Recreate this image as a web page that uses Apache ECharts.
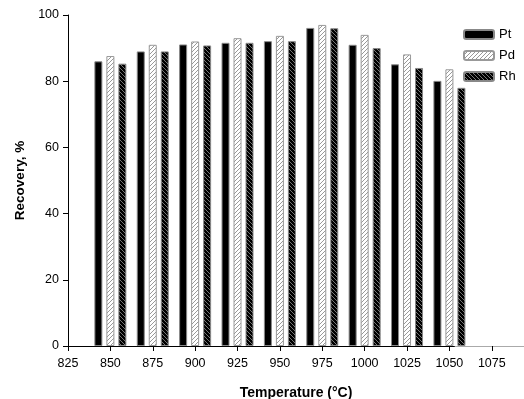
<!DOCTYPE html>
<html>
<head>
<meta charset="utf-8">
<script src="https://cdn.jsdelivr.net/npm/echarts@6/dist/echarts.min.js"></script>
<style>html,body{margin:0;padding:0;background:#fff}#c{width:524px;height:399px}</style>
</head>
<body>
<div id="c"></div>
<script>
var temperatures = [850, 875, 900, 925, 950, 975, 1000, 1025, 1050];
var pt = [86.0, 89.0, 91.1, 91.6, 92.1, 96.1, 91.0, 85.1, 80.1];
var pd = [87.6, 91.0, 92.0, 93.0, 93.7, 97.0, 94.0, 88.1, 83.6];
var rh = [85.3, 89.0, 90.8, 91.6, 92.1, 96.0, 90.0, 84.0, 78.0];
var xTicks = [825, 850, 875, 900, 925, 950, 975, 1000, 1025, 1050, 1075];
var yTicks = [0, 20, 40, 60, 80, 100];

function hatch(bg, fg, forward) {
  var s = 4, cv = document.createElement('canvas');
  cv.width = s; cv.height = s;
  var g = cv.getContext('2d');
  g.fillStyle = bg; g.fillRect(0, 0, s, s);
  g.strokeStyle = fg; g.lineWidth = 1;
  g.beginPath();
  if (forward) {
    g.moveTo(0, s); g.lineTo(s, 0);
    g.moveTo(-1, 1); g.lineTo(1, -1);
    g.moveTo(s - 1, s + 1); g.lineTo(s + 1, s - 1);
  } else {
    g.moveTo(0, 0); g.lineTo(s, s);
    g.moveTo(-1, s - 1); g.lineTo(1, s + 1);
    g.moveTo(s - 1, -1); g.lineTo(s + 1, 1);
  }
  g.stroke();
  return { image: cv, repeat: 'repeat' };
}

function pairs(vals) { return temperatures.map(function (t, i) { return [t, vals[i]]; }); }

var font = 'Liberation Sans, Arial, sans-serif';
var chart = echarts.init(document.getElementById('c'), null, { renderer: 'canvas' });
chart.setOption({
  animation: false,
  backgroundColor: '#fff',
  grid: { left: 68, top: 15, right: 0, bottom: 53, containLabel: false, outerBoundsMode: 'none' },
  legend: {
    orient: 'vertical', left: 458, top: 23,
    itemWidth: 30, itemHeight: 9, itemGap: 8,
    textStyle: { fontFamily: font, fontSize: 13, color: '#000' },
    data: ['Pt', 'Pd', 'Rh']
  },
  xAxis: [{
    type: 'value', min: 825, max: 1094, interval: 25,
    axisLine: { onZero: false, lineStyle: { color: '#000', width: 1 } },
    axisTick: { show: true, length: 5, lineStyle: { color: '#000' } },
    axisLabel: {
      margin: 11, fontFamily: font, fontSize: 12.5, color: '#000', showMaxLabel: false,
      formatter: function (v) { return xTicks.indexOf(v) >= 0 ? String(v) : ''; }
    },
    splitLine: { show: false },
    name: 'Temperature (°C)', nameLocation: 'middle', nameGap: 40,
    nameTextStyle: { fontFamily: font, fontSize: 14, fontWeight: 'bold', color: '#000' }
  }, {
    type: 'value', position: 'top', min: 825, max: 1094, interval: 25,
    axisLine: { show: true, lineStyle: { width: 1, color: {
      type: 'linear', x: 0, y: 0, x2: 1, y2: 0,
      colorStops: [{ offset: 0, color: '#000' }, { offset: 0.843, color: '#000' },
                   { offset: 0.846, color: '#aaa' }, { offset: 1, color: '#aaa' }] } } },
    axisTick: { show: false }, axisLabel: { show: false }, splitLine: { show: false }
  }],
  yAxis: {
    type: 'value', min: 0, max: 100, interval: 20,
    axisLine: { show: true, lineStyle: { color: '#000', width: 1 } },
    axisTick: { show: true, length: 5, lineStyle: { color: '#000' } },
    axisLabel: {
      margin: 9, fontFamily: font, fontSize: 12.5, color: '#000',
      formatter: function (v) { return yTicks.indexOf(v) >= 0 ? String(v) : ''; }
    },
    splitLine: { show: false },
    name: 'Recovery, %', nameLocation: 'middle', nameGap: 41,
    nameTextStyle: { fontFamily: font, fontSize: 13.5, fontWeight: 'bold', color: '#000' }
  },
  series: [
    { name: 'Pt', type: 'bar', data: pairs(pt), barWidth: 8, barGap: '50%',
      itemStyle: { color: '#000', borderColor: '#888', borderWidth: 1 } },
    { name: 'Pd', type: 'bar', data: pairs(pd), barWidth: 8, barGap: '50%',
      itemStyle: { color: hatch('#fff', '#999', true), borderColor: '#999', borderWidth: 1 } },
    { name: 'Rh', type: 'bar', data: pairs(rh), barWidth: 8, barGap: '50%',
      itemStyle: { color: hatch('#000', '#777', false), borderColor: '#888', borderWidth: 1 } }
  ]
});
</script>
</body>
</html>
